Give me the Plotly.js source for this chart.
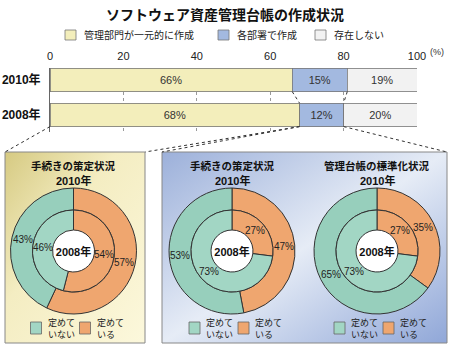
<!DOCTYPE html>
<html><head><meta charset="utf-8">
<script src="https://cdn.plot.ly/plotly-3.0.1.min.js"></script>
<style>html,body{margin:0;padding:0;background:#fff}#c{width:450px;height:348px}</style>
</head><body><div id="c"></div>
<script>
// ---- data ----
const years = ['2010年', '2008年'];
const central = [66, 68];
const dept = [15, 12];
const none = [19, 20];
const seriesNames = ['管理部門が一元的に作成', '各部署で作成', '存在しない'];
const xTicks = [0, 20, 40, 60, 80, 100];

const panelTitles = ['手続きの策定状況', '手続きの策定状況', '管理台帳の標準化状況'];
const defined2010 = [57, 47, 35];
const notDefined2010 = [43, 53, 65];
const defined2008 = [54, 27, 27];
const notDefined2008 = [46, 73, 73];
const sliceLabels = ['定めている', '定めていない'];
const donutLegend = ['定めて<br>いない', '定めて<br>いる'];

// ---- layout helpers ----
const W = 450, H = 348;
const px = x => x / W, py = y => 1 - y / H;
const FONT = "'Liberation Sans', 'Noto Sans CJK JP', sans-serif";
const JP = "'Noto Sans CJK JP', 'Liberation Sans', sans-serif";
const xDom = [px(50), px(417)];
const yDom = [py(132), py(68)];
const yR = [1.49, -0.34];
const bw = 0.67;
const xToPaper = v => xDom[0] + v / 100 * (xDom[1] - xDom[0]);
const yToPaper = v => yDom[0] + (v - yR[0]) / (yR[1] - yR[0]) * (yDom[1] - yDom[0]);

const barColors = ['#f3eebb', '#a3b9e0', '#f2f2f2'];
const teal = '#a2d6c4', tealDark = '#97cfbc', orange = '#efa66f';

const traces = [];
[central, dept, none].forEach((vals, i) => {
  traces.push({
    type: 'bar', orientation: 'h', y: years, x: vals, name: seriesNames[i],
    width: bw, marker: {color: barColors[i], line: {color: '#777', width: 0.8}},
    text: vals.map(v => v + '%'), textposition: 'inside', insidetextanchor: 'middle',
    textfont: {family: FONT, size: 11, color: '#333'}, showlegend: false, hoverinfo: 'skip',
    xaxis: 'x', yaxis: 'y'
  });
});

const annotations = [];
function ann(text, x, y, font, extra) {
  annotations.push(Object.assign({text: text, xref: 'paper', yref: 'paper', x: px(x), y: py(y),
    xanchor: 'center', yanchor: 'middle', showarrow: false, font: font}, extra || {}));
}
// label each slice at its mid-angle, mid-ring
function sliceLabelsAt(cx, cy, r0, r1, vals) {
  const tot = vals.reduce((a, b) => a + b, 0);
  let cum = 0;
  vals.forEach(v => {
    const a = (cum + v / 2) / tot * 2 * Math.PI;
    cum += v;
    const r = (r0 + r1) / 2;
    ann(v + '%', cx + r * Math.sin(a), cy - r * Math.cos(a), {family: FONT, size: 10, color: '#222'});
  });
}

const shapes = [];
const centers = [73.5, 232, 377];
const cy = 251;
const rOut = 63, rMid = 41, rIn = 21;
centers.forEach((cx, k) => {
  const outerVals = [defined2010[k], notDefined2010[k]];
  const innerVals = [defined2008[k], notDefined2008[k]];
  traces.push({
    type: 'pie', values: outerVals, labels: sliceLabels,
    sort: false, direction: 'clockwise', rotation: 0, hole: rMid / rOut,
    domain: {x: [px(cx - rOut), px(cx + rOut)], y: [py(cy + rOut), py(cy - rOut)]},
    marker: {colors: [orange, tealDark], line: {color: '#333', width: 1}},
    textinfo: 'none', showlegend: false, hoverinfo: 'skip'
  });
  traces.push({
    type: 'pie', values: innerVals, labels: sliceLabels,
    sort: false, direction: 'clockwise', rotation: 0, hole: rIn / rMid,
    domain: {x: [px(cx - rMid), px(cx + rMid)], y: [py(cy + rMid), py(cy - rMid)]},
    marker: {colors: [orange, teal], line: {color: '#333', width: 1}},
    textinfo: 'none', showlegend: false, hoverinfo: 'skip',
    title: {text: '<b>2008年</b>', position: 'middle center', font: {family: FONT, size: 11, color: '#111'}}
  });
  // white centre of the donut hole
  shapes.push({type: 'circle', xref: 'paper', yref: 'paper', x0: px(cx - rIn), x1: px(cx + rIn),
    y0: py(cy + rIn), y1: py(cy - rIn), fillcolor: '#fff', line: {width: 0}, layer: 'below'});
  sliceLabelsAt(cx, cy, rMid, rOut, outerVals);
  sliceLabelsAt(cx, cy, rIn, rMid, innerVals);
});

function gradSvg(stops) {
  const s = '<svg xmlns="http://www.w3.org/2000/svg" width="100" height="100" preserveAspectRatio="none">' +
    '<defs><linearGradient id="g" x1="0" y1="0" x2="1" y2="1">' +
    stops.map(st => '<stop offset="' + st[0] + '" stop-color="' + st[1] + '"/>').join('') +
    '</linearGradient></defs><rect width="100" height="100" fill="url(#g)"/></svg>';
  return 'data:image/svg+xml;charset=utf-8,' + encodeURIComponent(s);
}
const panels = [
  {x0: 5, x1: 145, y0: 152, y1: 343, stops: [[0, '#d6ca82'], [0.4, '#f4edc2'], [1, '#fcf8dc']]},
  {x0: 162, x1: 447, y0: 152, y1: 343, stops: [[0, '#9cb0da'], [0.5, '#e6ecf6'], [1, '#90a7d8']]}
];
const images = panels.map(p => ({
  source: gradSvg(p.stops), xref: 'paper', yref: 'paper', x: px(p.x0), y: py(p.y0),
  sizex: px(p.x1) - px(p.x0), sizey: py(p.y0) - py(p.y1), sizing: 'stretch',
  xanchor: 'left', yanchor: 'top', layer: 'below'
}));

panels.forEach(p => shapes.push({type: 'rect', xref: 'paper', yref: 'paper', x0: px(p.x0), x1: px(p.x1),
  y0: py(p.y1), y1: py(p.y0), line: {color: '#888', width: 1}, fillcolor: 'rgba(0,0,0,0)', layer: 'above'}));

// connectors
const yb = yToPaper(1 + bw / 2);
const dot = {color: '#333', width: 1, dash: 'dot'};
[[0, 5], [central[1], 145], [central[1], 162], [central[1] + dept[1], 447]].forEach(c => {
  shapes.push({type: 'line', xref: 'paper', yref: 'paper', x0: xToPaper(c[0]), y0: yb,
    x1: px(c[1]), y1: py(152), line: dot});
});
shapes.push({type: 'line', xref: 'x', yref: 'y', x0: central[0], y0: bw / 2, x1: central[1], y1: 1 - bw / 2, line: dot});
shapes.push({type: 'line', xref: 'x', yref: 'y', x0: central[0] + dept[0], y0: bw / 2,
  x1: central[1] + dept[1], y1: 1 - bw / 2, line: dot});

ann('<b>ソフトウェア資産管理台帳の作成状況</b>', 225, 14, {family: JP, size: 14, color: '#111'});
// top legend
const legX = [65, 218, 315];
seriesNames.forEach((n, i) => {
  shapes.push({type: 'rect', xref: 'paper', yref: 'paper', x0: px(legX[i]), x1: px(legX[i] + 11),
    y0: py(40), y1: py(30), fillcolor: barColors[i], line: {color: '#777', width: 0.8}});
  ann(n, legX[i] + 17, 35, {family: JP, size: 10, color: '#222'}, {xanchor: 'left'});
});
ann('(%)', 437, 52, {family: FONT, size: 9, color: '#333'});

// panel texts
centers.forEach((cx, k) => {
  ann(panelTitles[k], cx, 165, {family: JP, size: 10.5, color: '#111', weight: 'bold'});
  ann('<b>2010年</b>', cx, 181, {family: FONT, size: 11, color: '#111'});
  const boxX = [cx - 43, cx + 6];
  [teal, orange].forEach((col, j) => {
    shapes.push({type: 'rect', xref: 'paper', yref: 'paper', x0: px(boxX[j]), x1: px(boxX[j] + 11),
      y0: py(334), y1: py(322), fillcolor: col, line: {color: '#666', width: 0.8}});
    ann(donutLegend[j], boxX[j] + 15, 328, {family: JP, size: 9, color: '#222'}, {xanchor: 'left', align: 'left'});
  });
});

const layout = {
  width: W, height: H, margin: {l: 0, r: 0, t: 0, b: 0}, paper_bgcolor: '#fff', plot_bgcolor: 'rgba(0,0,0,0)',
  barmode: 'stack', showlegend: false,
  xaxis: {domain: xDom, range: [0, 100], side: 'top', tickvals: xTicks, ticks: 'outside', ticklen: 3,
    tickcolor: 'rgba(0,0,0,0)', tickfont: {family: FONT, size: 11, color: '#222'}, showgrid: true,
    gridcolor: '#999', griddash: 'dot', gridwidth: 1, zeroline: false, showline: false, fixedrange: true, anchor: 'y'},
  yaxis: {domain: yDom, type: 'category', categoryarray: years, range: yR, ticks: 'outside', ticklen: 6,
    tickcolor: 'rgba(0,0,0,0)', tickfont: {family: FONT, size: 12, color: '#111', weight: 'bold'},
    showline: true, linecolor: '#666', linewidth: 1, showgrid: false, fixedrange: true, anchor: 'x'},
  images: images, shapes: shapes, annotations: annotations
};
Plotly.newPlot('c', traces, layout, {staticPlot: true, displayModeBar: false});
</script></body></html>
